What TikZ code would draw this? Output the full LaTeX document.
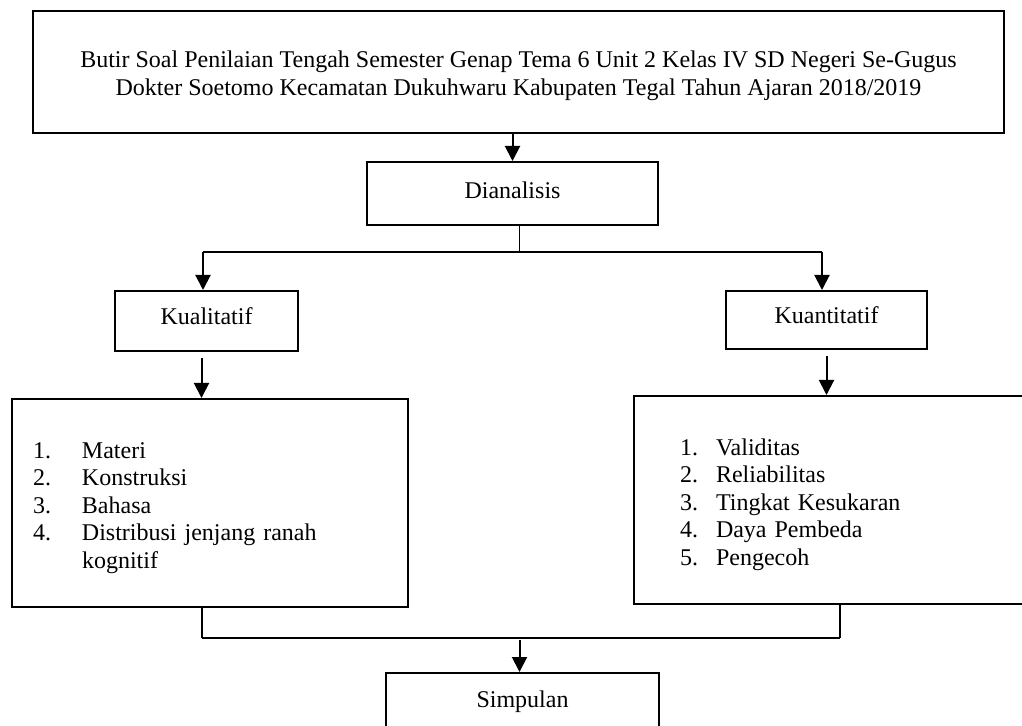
\documentclass[tikz,border=0pt]{standalone}
\usepackage{fontspec}
\setmainfont{Liberation Serif}
\usetikzlibrary{positioning,arrows.meta}

\begin{document}
\begin{tikzpicture}[x=0.5pt,y=-0.5pt,>={Triangle[width=7.5pt,length=7.5pt]},
  font=\fontsize{12}{13.75}\selectfont,
  flow box/.style={rectangle,draw,line width=1pt,inner sep=0pt},
  list box/.style={flow box,align=left},
  line/.style={line width=0.65pt},
  arrow/.style={->,line width=1pt}]

  \useasboundingbox (0,0) rectangle (1022,726);
  \clip (0,0) rectangle (1022,726);

  \node[flow box,minimum width=485.5pt,minimum height=61pt] (top) at (518.5,72)
    {\begin{tabular}{@{}c@{}}\noalign{\vspace{4pt}}
      Butir Soal Penilaian Tengah Semester Genap Tema 6 Unit 2 Kelas IV SD Negeri Se-Gugus\\
      Dokter Soetomo Kecamatan Dukuhwaru Kabupaten Tegal Tahun Ajaran 2018/2019
    \end{tabular}};
  \node[flow box,minimum width=145.5pt,minimum height=31.5pt,text depth=3pt] (dian)
    [node distance=60.75pt,below of=top,xshift=-3pt] {Dianalisis};
  \node[flow box,minimum width=91.5pt,minimum height=30pt,text depth=4.5pt] (kual)
    [node distance=63.75pt,below of=dian,xshift=-153pt] {Kualitatif};
  \node[flow box,minimum width=100.5pt,minimum height=29pt,text depth=4.5pt] (kuan)
    [node distance=63.25pt,below of=dian,xshift=157pt] {Kuantitatif};

  % daftar aspek
  \node[list box,minimum height=104pt,inner xsep=10.5pt,text width=177pt] (listl)
    [node distance=91pt,below of=kual,xshift=1.75pt]
    {\begin{tabular}{@{}p{24.5pt}@{}l@{}}\noalign{\vspace{5pt}}
      1. & Materi\\
      2. & Konstruksi\\
      3. & Bahasa\\
      4. & Distribusi jenjang ranah\\
         & kognitif
    \end{tabular}};
  \node[list box,minimum height=104pt,inner xsep=23pt,text width=157pt] (listr)
    [node distance=90pt,below of=kuan,xshift=5.25pt]
    {\begin{tabular}{@{}p{18pt}@{}l@{}}\noalign{\vspace{5pt}}
      1. & Validitas\\
      2. & Reliabilitas\\
      3. & Tingkat Kesukaran\\
      4. & Daya Pembeda\\
      5. & Pengecoh
    \end{tabular}};

  \node[flow box,minimum width=136.5pt,minimum height=29pt] (simp)
    [node distance=254.25pt,below of=dian,xshift=5pt] {Simpulan};

  \draw[arrow] (top.south -| dian.north) -- (dian.north);
  \draw[line] ([xshift=3.5pt]dian.south) -- ++(0pt,-13pt) coordinate (split);
  \draw[line] ([xshift=-1.75pt]split -| kual.north) -- ([xshift=-2.25pt]split -| kuan.north);
  \draw[arrow] ([xshift=-1.75pt]split -| kual.north) -- ([xshift=-1.75pt]kual.north);
  \draw[arrow] ([xshift=-2.25pt]split -| kuan.north) -- ([xshift=-2.25pt]kuan.north);
  \draw[arrow,shorten <=3pt] ([xshift=-2.5pt]kual.south) -- ([xshift=-2.5pt]kual.south |- listl.north);
  \draw[arrow,shorten <=3pt] (kuan.south) -- (kuan.south |- listr.north);

  \draw[line] ([xshift=-4pt]listl.south) -- ++(0pt,-15pt) coordinate (joinl);
  \draw[line] ([xshift=1.5pt]listr.south) -- ([xshift=1.5pt]listr.south |- joinl) coordinate (joinr);
  \draw[line] (joinl) -- (joinr);
  \draw[arrow,shorten <=1pt] ([xshift=-1.5pt]joinl -| simp.north) -- ([xshift=-1.5pt]simp.north);
\end{tikzpicture}
\end{document}
